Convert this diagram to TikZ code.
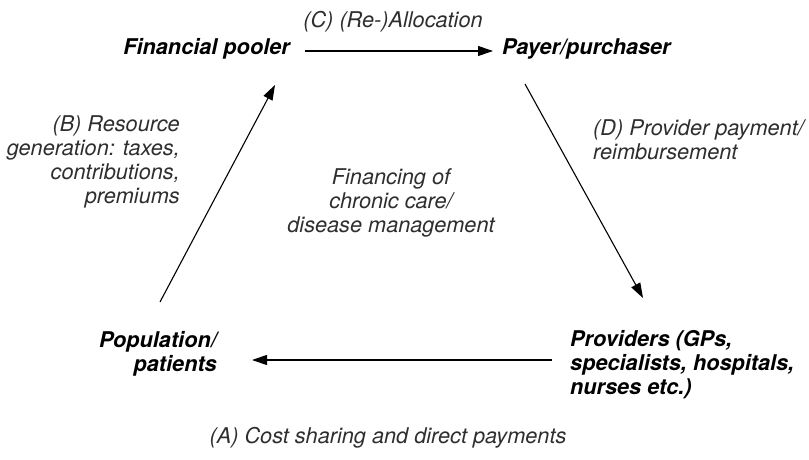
\documentclass[tikz,border=0pt]{standalone}
\usepackage{fontspec}
\setmainfont{TeX Gyre Heros}
\usetikzlibrary{arrows.meta}
\begin{document}
\begin{tikzpicture}[x=1pt,y=-1pt,
  main/.style={font=\fontsize{21.7}{24}\selectfont\bfseries\itshape, inner sep=0pt},
  lbl/.style={font=\fontsize{21.7}{24}\selectfont\itshape, text=black!82, inner sep=0pt},
  flow/.style={-{Triangle[length=15pt,width=10pt]}, line width=1.1pt}]
\useasboundingbox (0,0) rectangle (809,460);
% main nodes
\node[main, anchor=east] (pool) at (290,49) {Financial pooler};
\node[main, anchor=west] (payer) at (502,49) {Payer/purchaser};
\node[main, anchor=east, align=right] (pop) at (217,353.5) {Population/\\patients};
\node[main, anchor=west, align=left] (prov) at (570,365) {Providers (GPs,\\specialists, hospitals,\\nurses etc.)};
% labels
\node[lbl] (lc) at (393,22) {(C) (Re-)Allocation};
\node[lbl, anchor=east, align=right] (lb) at (180,162) {(B) Resource\\generation: taxes,\\contributions,\\premiums};
\node[lbl, anchor=west, align=left] (ld) at (593,139.5) {(D) Provider payment/\\reimbursement};
\node[lbl, align=center] (lm) at (391,202.5) {Financing of\\chronic care/\\disease management};
\node[lbl] (la) at (388,438) {(A) Cost sharing and direct payments};
% connector ends
\coordinate (cS) at (305,51);
\coordinate (cE) at (493,51);
\coordinate (bS) at (160,302);
\coordinate (bE) at (275,85);
\coordinate (dS) at (525,84);
\coordinate (dE) at (643,298);
\coordinate (aS) at (552,360);
\coordinate (aE) at (252,360);
\draw[flow] (cS) -- (cE);
\draw[flow] (bS) -- (bE);
\draw[flow] (dS) -- (dE);
\draw[flow] (aS) -- (aE);
\end{tikzpicture}
\end{document}
